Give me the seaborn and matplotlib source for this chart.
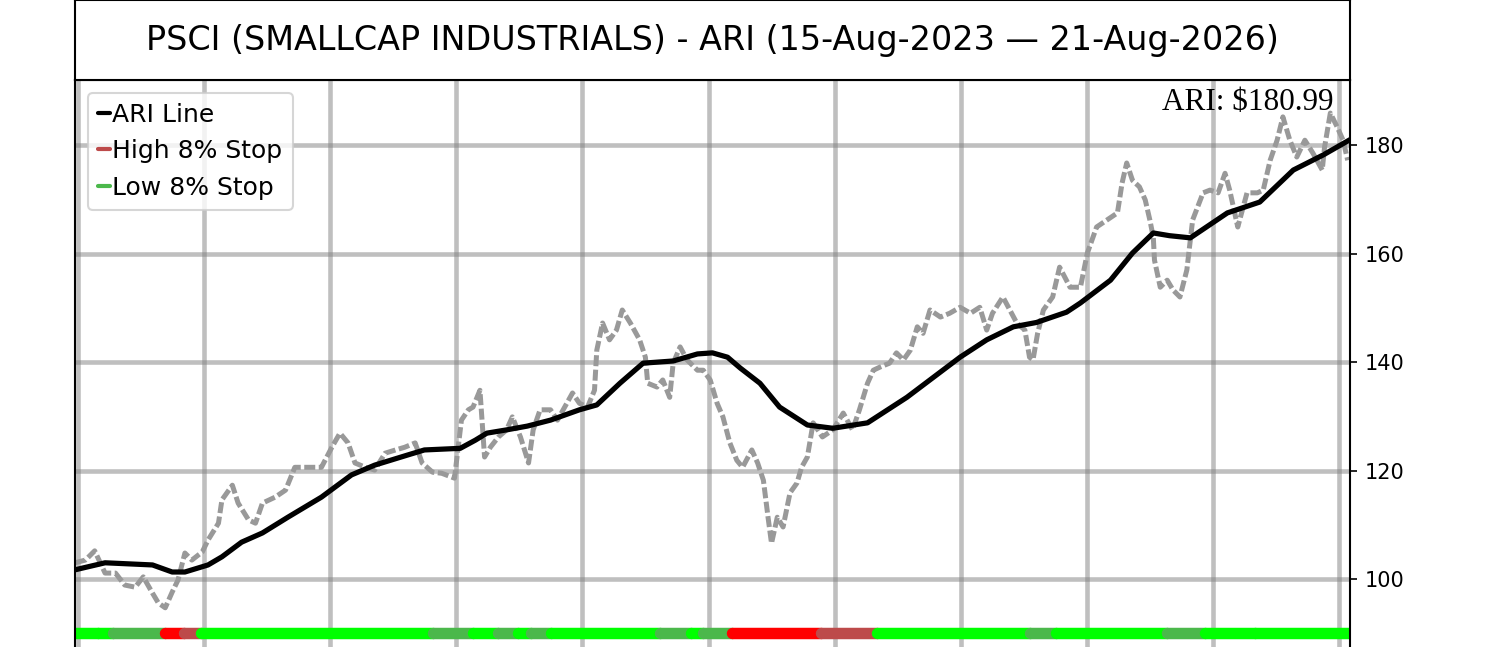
import numpy as np
import matplotlib.pyplot as plt
import seaborn as sns
from matplotlib.lines import Line2D

# ---- data (x = calendar days since 15-Aug-2023) ----
price_day = [0, 9, 17, 26, 35, 43, 52, 59, 67, 72,
             78, 84, 89, 95, 101, 110, 115, 124, 127, 136,
             141, 150, 156, 162, 173, 182, 190, 201, 213, 222,
             229, 236, 242, 251, 259, 268, 277, 285, 294, 300,
             309, 317, 328, 334, 340, 344, 350, 354, 359, 366,
             373, 378, 385, 392, 396, 402, 411, 417, 425, 430,
             436, 443, 449, 451, 456, 462, 468, 473, 480, 488,
             493, 495, 503, 508, 514, 517, 523, 529, 538, 543,
             549, 555, 560, 566, 572, 577, 585, 590, 595, 599,
             602, 607, 612, 618, 624, 628, 633, 638, 646, 655,
             664, 672, 678, 685, 690, 696, 704, 710, 716, 722,
             728, 733, 739, 748, 756, 765, 774, 782, 788, 793,
             802, 808, 814, 821, 825, 828, 832, 837, 845, 851,
             860, 869, 875, 883, 892, 901, 905, 909, 914, 920,
             925, 929, 932, 933, 938, 944, 949, 955, 961, 966,
             975, 981, 988, 994, 998, 1005, 1013, 1022, 1027, 1033,
             1039, 1044, 1050, 1056, 1063, 1070, 1078, 1080, 1085, 1091,
             1096, 1100]
price_val = [103.0, 103.5, 105.2, 101.1, 101.1, 98.9, 98.5, 100.4, 97.4, 95.6,
             94.7, 97.6, 99.8, 104.8, 103.5, 105.0, 107.2, 110.3, 114.6, 117.3,
             114.0, 110.9, 110.3, 114.0, 115.1, 116.4, 120.6, 120.6, 120.6, 124.3,
             126.9, 125.1, 121.4, 120.6, 120.1, 123.2, 123.8, 124.3, 125.1, 121.4,
             119.7, 119.5, 118.6, 129.3, 131.2, 131.7, 134.8, 122.5, 124.3, 126.2,
             127.5, 129.9, 126.2, 121.4, 127.5, 131.2, 131.2, 129.3, 132.4, 134.3,
             132.4, 131.7, 134.8, 142.2, 147.2, 144.1, 145.9, 149.6, 147.2, 144.1,
             140.9, 136.1, 135.4, 136.7, 133.5, 139.8, 142.8, 140.4, 138.5, 138.5,
             136.7, 132.4, 129.9, 125.1, 121.9, 120.6, 123.8, 121.4, 118.2, 111.4,
             106.6, 111.4, 109.6, 115.9, 117.7, 120.6, 122.5, 128.8, 126.2, 127.5,
             130.6, 127.5, 131.2, 136.1, 138.5, 139.1, 139.8, 141.7, 140.4, 142.2,
             146.5, 145.3, 149.6, 148.3, 149.0, 150.1, 149.0, 150.1, 145.9, 149.0,
             152.0, 149.6, 147.2, 145.9, 140.9, 140.4, 145.3, 149.6, 152.0, 157.5,
             153.8, 153.8, 160.1, 164.9, 166.2, 167.5, 173.0, 176.7, 173.5, 172.3,
             169.9, 166.2, 163.0, 158.8, 153.8, 155.1, 153.3, 152.0, 157.0, 166.2,
             171.2, 171.7, 171.2, 174.8, 171.7, 164.9, 171.2, 171.2, 171.7, 177.2,
             180.9, 185.2, 180.9, 177.8, 180.9, 178.5, 175.4, 179.6, 185.9, 183.3,
             180.9, 177.2]

ari_day = [0, 26, 67, 84, 95, 115, 127, 144, 162, 184,
           213, 239, 259, 288, 302, 333, 346, 356, 373, 391,
           411, 436, 451, 471, 491, 517, 538, 551, 564, 575,
           592, 609, 633, 655, 685, 719, 742, 765, 788, 811,
           831, 857, 869, 895, 914, 932, 946, 964, 996, 1024,
           1053, 1079, 1102]
ari_val = [101.7, 103.0, 102.6, 101.3, 101.3, 102.6, 104.1, 106.8, 108.5, 111.4,
           115.1, 119.2, 121.0, 122.9, 123.8, 124.1, 125.6, 126.9, 127.5, 128.2,
           129.3, 131.2, 132.1, 136.1, 139.8, 140.2, 141.5, 141.7, 140.9, 138.9,
           136.1, 131.7, 128.4, 127.8, 128.8, 133.5, 137.2, 140.9, 144.1, 146.5,
           147.3, 149.2, 150.9, 155.1, 160.1, 163.8, 163.3, 162.9, 167.5, 169.5,
           175.4, 178.2, 181.0]

# stop-state strip: segment start day and state, last segment runs to the end
status_start = [0, 20, 33, 78, 94, 109, 309, 344, 366, 383, 394, 411,
                506, 532, 543, 568, 645, 693, 825, 848, 944, 977, 1020]
status_kind = ["up", "up", "low", "down", "high", "up", "low", "up", "low", "up", "low", "up",
               "low", "up", "low", "down", "high", "up", "low", "up", "low", "up", "up"]
last_day = 1102

title = "PSCI (SMALLCAP INDUSTRIALS) - ARI (15-Aug-2023 \u2014 21-Aug-2026)"
ari_label = "ARI: $180.99"

kind_color = {"up": "#00ff00", "low": "#4bb84b", "down": "#ff0000", "high": "#bd4a4a"}

sns.set_style("white")
plt.rcParams["font.family"] = ["DejaVu Sans"]
plt.rcParams["axes.edgecolor"] = "black"
plt.rcParams["xtick.color"] = "black"
plt.rcParams["ytick.color"] = "black"
plt.rcParams["text.color"] = "black"

fig = plt.figure(figsize=(10, 647 / 150), dpi=150)
ax = fig.add_axes([0.05, -0.012365, 0.85, 0.888717])
tax = fig.add_axes([0.05, 0.876352, 0.85, 0.123648])

# title box
tax.set_xticks([])
tax.set_yticks([])
for s in tax.spines.values():
    s.set_linewidth(1.0)
tax.text(0.5, 0.5, title, ha="center", va="center", fontsize=16, transform=tax.transAxes)

# price trace
sns.lineplot(x=price_day, y=price_val, ax=ax, color="#999999", linewidth=2.4)
ax.lines[-1].set_dashes([2.2, 0.7])

# ARI line
sns.lineplot(x=ari_day, y=ari_val, ax=ax, color="black", linewidth=2.5)

# status strip
ends = status_start[1:] + [last_day]
for s, e, k in zip(status_start, ends, status_kind):
    ax.plot([s, e], [90.1, 90.1], color=kind_color[k], lw=5.5, solid_capstyle="round")

ax.set_xlim(0, last_day)
ax.set_ylim(86, 192)
ax.set_xticks(np.linspace(2.6, 1092.6, 11))
ax.set_xticklabels([])
ax.set_yticks([100, 120, 140, 160, 180])
ax.yaxis.tick_right()
ax.tick_params(axis="y", labelsize=10, length=3.5, width=0.8)
ax.grid(True, color="gray", alpha=0.5, linewidth=2.2)
ax.set_axisbelow(True)
ax.set_xlabel("")
ax.set_ylabel("")
for s in ax.spines.values():
    s.set_linewidth(1.0)

ax.text(0.9867, 0.9478, ari_label, transform=ax.transAxes, ha="right", va="baseline",
        fontsize=15, family="Liberation Serif")

handles = [Line2D([], [], color="black", lw=2),
           Line2D([], [], color=kind_color["high"], lw=2),
           Line2D([], [], color=kind_color["low"], lw=2)]
ax.legend(handles, ["ARI Line", "High 8% Stop", "Low 8% Stop"], loc="upper left",
          fontsize=12, handlelength=0.5, handletextpad=0.1, frameon=True)

fig.savefig("out.png", dpi=150)
